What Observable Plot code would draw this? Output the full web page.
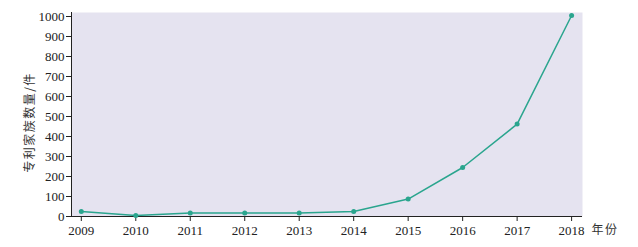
<!DOCTYPE html>
<html><head><meta charset="utf-8">
<script src="https://cdn.jsdelivr.net/npm/d3@7"></script>
<script src="https://cdn.jsdelivr.net/npm/@observablehq/plot@0.6"></script>
<style>body{margin:0;background:#fff} svg text{font-family:'Liberation Serif','Times New Roman',serif}</style>
</head><body><div id="chart"></div>
<script>
const years = [2009, 2010, 2011, 2012, 2013, 2014, 2015, 2016, 2017, 2018];
const counts = [25, 5, 17, 17, 17, 25, 87, 245, 462, 1005];
const yTicks = [0, 100, 200, 300, 400, 500, 600, 700, 800, 900, 1000];
const data = years.map((y, i) => ({year: y, count: counts[i]}));
const color = "#2aa58e";
const serif = "'Liberation Serif', 'Times New Roman', serif";
const cjk = "'Noto Sans CJK SC', sans-serif";
const chart = Plot.plot({
  width: 638, height: 247,
  marginLeft: 71, marginRight: 56, marginTop: 12, marginBottom: 31,
  style: {fontFamily: serif, fontSize: "13px", color: "#222"},
  x: {type: "linear", domain: [2008.82, 2018.2]},
  y: {domain: [0, 1020]},
  marks: [
    Plot.frame({fill: "#e5e3f0", stroke: null}),
    Plot.axisY({ticks: yTicks, tickSize: 5, tickPadding: 2, tickFormat: d => String(d), label: null, fontSize: 13, fontFamily: serif}),
    Plot.axisX({ticks: years, tickSize: 5, tickPadding: 4, tickFormat: d => String(d), label: null, fontSize: 13, fontFamily: serif}),
    Plot.ruleX([2008.82], {stroke: "#222"}),
    Plot.ruleY([0], {stroke: "#222"}),
    Plot.line(data, {x: "year", y: "count", stroke: color, strokeWidth: 1.5}),
    Plot.dot(data, {x: "year", y: "count", fill: color, r: 2.5}),
    Plot.text(["年份"], {frameAnchor: "bottom-right", dx: 9, dy: 17, textAnchor: "start", fontSize: 12, fontFamily: cjk, fill: "#333"}),
    Plot.text(["专利家族数量/件"], {frameAnchor: "left", dx: -41, dy: 8, rotate: -90, textAnchor: "middle", fontSize: 12, fontFamily: cjk, fill: "#333"})
  ]
});
chart.querySelectorAll("text").forEach(t => { if (/[\u4e00-\u9fff]/.test(t.textContent)) { t.style.fontFamily = cjk; t.style.letterSpacing = "1.5px"; } });
document.getElementById("chart").appendChild(chart);
</script></body></html>
